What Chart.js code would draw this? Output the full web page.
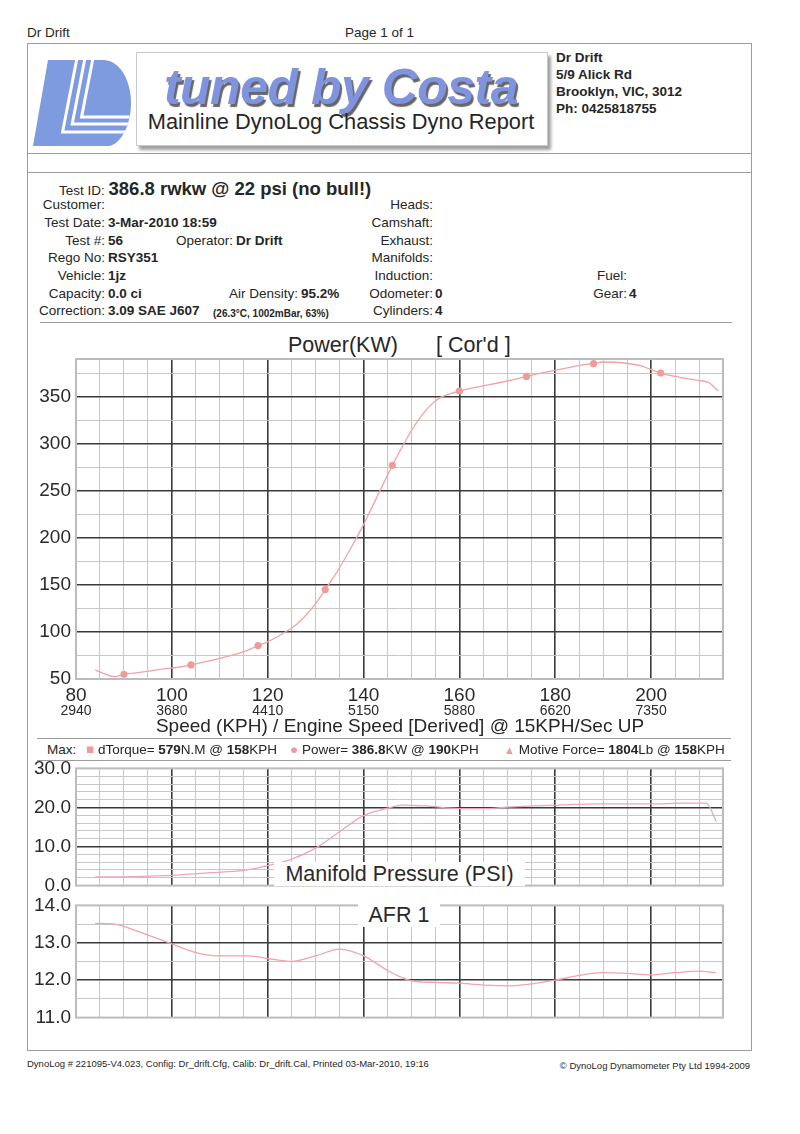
<!DOCTYPE html>
<html>
<head>
<meta charset="utf-8">
<title>Mainline DynoLog Chassis Dyno Report</title>
<script src="https://cdn.jsdelivr.net/npm/chart.js@4.4.1/dist/chart.umd.min.js"></script>
<style>
    html, body { margin: 0; padding: 0; background: #fff; }
    body {
        width: 800px; height: 1134px; position: relative; overflow: hidden;
        font-family: "Liberation Sans", Arial, sans-serif; color: #262626;
    }
    .t { position: absolute; white-space: nowrap; font-size: 13.5px; line-height: 16px; }
    .r { text-align: right; }
    .hline { position: absolute; height: 0; border-top: 1px solid #9c9c9c; }
    canvas { position: absolute; left: 0; }
    .plotLabel {
        position: absolute; background: #fff; text-align: center;
        font-size: 21.5px; line-height: 24px; color: #2a2a2a;
    }
</style>
</head>
<body>

<!-- page header -->
<div class="t" style="left:27px; top:25px;">Dr Drift</div>
<div class="t" style="left:345px; top:25px;">Page 1 of 1</div>
<div style="position:absolute; left:27px; top:43px; width:723px; height:1006px; border:1px solid #9c9c9c;"></div>

<!-- DynoLog logo -->
<svg style="position:absolute; left:0; top:0;" width="140" height="150" viewBox="0 0 140 150">
    <defs>
        <clipPath id="logoClip">
            <path d="M48,60 L104,60 C121,61 131,82 131,103 C131,125 121,144 109,146 L33,146 Z"/>
        </clipPath>
    </defs>
    <path d="M48,60 L104,60 C121,61 131,82 131,103 C131,125 121,144 109,146 L33,146 Z" fill="#7f9be0"/>
    <g clip-path="url(#logoClip)" stroke="#fff" stroke-width="3" fill="none">
        <polyline points="77,58 62.6,132 140,132"/>
        <polyline points="85,58 72.2,124 140,124"/>
        <polyline points="93,58 81.6,117 140,117"/>
    </g>
</svg>

<!-- banner -->
<div style="position:absolute; left:136px; top:52px; width:410px; height:92px; border:1px solid #c8c8c8; box-shadow:3px 4px 3px #a0a0a0; background:#fff;"></div>
<div style="position:absolute; left:136px; top:59px; width:410px; text-align:center; font-size:50px; line-height:56px; font-weight:bold; font-style:italic; color:#7f93de; text-shadow:2px 3px 1px #666; letter-spacing:-0.5px; white-space:nowrap;">tuned by Costa</div>
<div style="position:absolute; left:136px; top:109px; width:410px; text-align:center; font-size:21.8px; line-height:26px; white-space:nowrap;">Mainline DynoLog Chassis Dyno Report</div>

<!-- address -->
<div class="t" style="left:556px; top:49px; font-weight:bold; line-height:17px;">Dr Drift<br>5/9 Alick Rd<br>Brooklyn, VIC, 3012<br>Ph: 0425818755</div>

<div class="hline" style="left:27px; width:724px; top:153px;"></div>
<div class="hline" style="left:27px; width:724px; top:172px;"></div>

<!-- test details -->
<div class="t" style="left:59px; top:178px; line-height:22px;">Test ID: <b style="font-size:18.5px;">386.8 rwkw @ 22 psi (no bull!)</b></div>

<div class="t r" style="right:695px; top:197px;">Customer:</div>
<div class="t r" style="right:695px; top:215px;">Test Date:</div>
<div class="t" style="left:108px; top:215px; font-weight:bold;">3-Mar-2010 18:59</div>
<div class="t r" style="right:695px; top:233px;">Test #:</div>
<div class="t" style="left:108px; top:233px; font-weight:bold;">56</div>
<div class="t r" style="right:567px; top:233px;">Operator:</div>
<div class="t" style="left:236px; top:233px; font-weight:bold;">Dr Drift</div>
<div class="t r" style="right:695px; top:250px;">Rego No:</div>
<div class="t" style="left:108px; top:250px; font-weight:bold;">RSY351</div>
<div class="t r" style="right:695px; top:268px;">Vehicle:</div>
<div class="t" style="left:108px; top:268px; font-weight:bold;">1jz</div>
<div class="t r" style="right:695px; top:286px;">Capacity:</div>
<div class="t" style="left:108px; top:286px; font-weight:bold;">0.0 ci</div>
<div class="t r" style="right:502px; top:286px;">Air Density:</div>
<div class="t" style="left:301px; top:286px; font-weight:bold;">95.2%</div>
<div class="t r" style="right:695px; top:303px;">Correction:</div>
<div class="t" style="left:108px; top:303px; font-weight:bold;">3.09 SAE J607</div>
<div class="t" style="left:213px; top:306px; font-weight:bold; font-size:10px;">(26.3°C, 1002mBar, 63%)</div>

<div class="t r" style="right:367px; top:197px;">Heads:</div>
<div class="t r" style="right:367px; top:215px;">Camshaft:</div>
<div class="t r" style="right:367px; top:233px;">Exhaust:</div>
<div class="t r" style="right:367px; top:250px;">Manifolds:</div>
<div class="t r" style="right:367px; top:268px;">Induction:</div>
<div class="t r" style="right:367px; top:286px;">Odometer:</div>
<div class="t" style="left:435px; top:286px; font-weight:bold;">0</div>
<div class="t r" style="right:367px; top:303px;">Cylinders:</div>
<div class="t" style="left:435px; top:303px; font-weight:bold;">4</div>

<div class="t r" style="right:173px; top:268px;">Fuel:</div>
<div class="t r" style="right:173px; top:286px;">Gear:</div>
<div class="t" style="left:629px; top:286px; font-weight:bold;">4</div>

<div class="hline" style="left:40px; width:692px; top:322px;"></div>

<!-- power chart -->
<div class="t" style="left:288px; top:332px; font-size:21.5px; line-height:26px;">Power(KW)</div>
<div class="t" style="left:436px; top:332px; font-size:21.5px; line-height:26px;">[ Cor'd ]</div>
<canvas id="powerChart" width="760" height="410" style="top:330px;"></canvas>
<div class="t" style="left:0; width:800px; text-align:center; top:715px; font-size:19px; line-height:22px;">Speed (KPH) / Engine Speed [Derived] @ 15KPH/Sec UP</div>

<!-- max values -->
<div class="hline" style="left:37px; width:694px; top:738px;"></div>
<div class="t" style="left:47px; top:742px;">Max:</div>
<div class="t" style="left:86px; top:742px;"><span style="color:#f29a9a;">■</span> dTorque= <b>579</b>N.M @ <b>158</b>KPH</div>
<div class="t" style="left:290px; top:742px;"><span style="color:#f29a9a;">●</span> Power= <b>386.8</b>KW @ <b>190</b>KPH</div>
<div class="t" style="left:504px; top:742px;"><span style="color:#f29a9a; font-size:11px;">▲</span> Motive Force= <b>1804</b>Lb @ <b>158</b>KPH</div>
<div class="hline" style="left:37px; width:694px; top:760px;"></div>

<!-- manifold pressure and AFR charts -->
<canvas id="boostChart" width="760" height="150" style="top:752px;"></canvas>
<div class="plotLabel" style="left:274px; top:862px; width:251px;">Manifold Pressure (PSI)</div>
<canvas id="afrChart" width="760" height="145" style="top:889px;"></canvas>
<div class="plotLabel" style="left:358px; top:903px; width:82px;">AFR 1</div>

<!-- footer -->
<div class="t" style="left:27px; top:1058px; font-size:9.5px; line-height:12px;">DynoLog # 221095-V4.023, Config: Dr_drift.Cfg, Calib: Dr_drift.Cal, Printed 03-Mar-2010, 19:16</div>
<div class="t" style="right:50px; top:1060px; font-size:9.5px; line-height:12px;">© DynoLog Dynamometer Pty Ltd 1994-2009</div>

<script>
// Speed axis (KPH) and derived engine speed labels
const speedTicks = [80, 100, 120, 140, 160, 180, 200];
const rpmLabels = ['2940', '3680', '4410', '5150', '5880', '6620', '7350'];

// Corrected power curve
const powerSpeed = [84, 86, 88, 90, 94, 98, 102, 104, 108, 112, 116, 118, 120, 124, 126, 128, 130, 132,
    134, 136, 138, 140, 142, 144, 146, 148, 150, 152, 154, 156, 158, 160, 164, 168, 172, 174, 178, 182,
    186, 188, 190, 194, 198, 202, 206, 210, 212, 214];
const powerKw = [59.5, 55.5, 52.5, 55, 57.5, 60.5, 63, 65, 69.5, 74.5, 81, 85.5, 89.5, 101, 108, 118, 130, 145,
    160, 177, 195, 214, 235, 256, 277, 296, 314, 329, 341, 349, 353, 356, 360.5, 364.5, 369, 371.5, 376, 380,
    384, 385, 386.8, 386, 382.5, 375, 370.5, 367, 365, 356];
const powerMarkers = [90, 104, 118, 132, 146, 160, 174, 188, 202];

// Manifold pressure (PSI)
const boostSpeed = [84, 92, 100, 108, 115, 120, 125, 130, 135, 140, 145, 148, 153, 160, 165, 170, 180, 190,
    200, 207, 211.5, 213.6];
const boostPsi = [2.2, 2.3, 2.6, 3.3, 3.9, 5.1, 6.8, 9.6, 13.8, 17.9, 19.8, 20.6, 20.4, 19.7, 19.7, 20.1, 20.6,
    20.9, 20.9, 21.1, 21.1, 16.4];

// Air / fuel ratio
const afrSpeed = [84, 88, 93, 100, 105, 110, 116, 120, 125, 130, 135, 140, 145, 148, 150, 155, 160, 165, 171,
    175, 180, 185, 190, 195, 200, 205, 210, 213.5];
const afrValues = [13.52, 13.5, 13.3, 12.97, 12.74, 12.65, 12.65, 12.58, 12.5, 12.65, 12.83, 12.65, 12.26,
    12.07, 11.98, 11.94, 11.92, 11.87, 11.85, 11.9, 12.0, 12.13, 12.2, 12.18, 12.14, 12.2, 12.24, 12.2];

Chart.defaults.font.family = '"Liberation Sans", Arial, sans-serif';
Chart.defaults.color = '#2a2a2a';

const X_MIN = 80, X_MAX = 215;

// Build a list of grid values between min and max
function steps(min, max, step) {
    const out = [];
    for (let v = min; v <= max + 1e-9; v += step) out.push(Math.round(v * 1000) / 1000);
    return out;
}

const has = (list, v) => list.some(m => Math.abs(m - v) < 1e-6);

// Light grey frame round the plot area
const plotFrame = {
    id: 'plotFrame',
    beforeDatasetsDraw(chart) {
        const { ctx, chartArea: a } = chart;
        ctx.save();
        ctx.strokeStyle = '#bcbcbc';
        ctx.lineWidth = 2;
        ctx.strokeRect(a.left, a.top, a.right - a.left, a.bottom - a.top);
        ctx.restore();
    }
};

function gridStyle(majors, min, max) {
    return {
        drawTicks: false,
        color: ctx => {
            const v = ctx.tick ? ctx.tick.value : null;
            if (v === null || Math.abs(v - min) < 1e-6 || Math.abs(v - max) < 1e-6) return 'rgba(0,0,0,0)';
            return has(majors, v) ? '#3a3a3a' : '#c6c6c6';
        },
        lineWidth: ctx => (ctx.tick && has(majors, ctx.tick.value) ? 1.6 : 1)
    };
}

function makeChart(id, cfg) {
    const xGrid = steps(X_MIN, X_MAX, 5);
    const yGrid = steps(cfg.yMin, cfg.yMax, cfg.yMinor);

    const scales = {
        x: {
            type: 'linear', min: X_MIN, max: X_MAX,
            afterBuildTicks: s => { s.ticks = xGrid.map(v => ({ value: v })); },
            afterFit: s => { s.height = cfg.showX ? 24 : 0; },
            grid: gridStyle(speedTicks, X_MIN, X_MAX),
            border: { display: false },
            ticks: {
                display: cfg.showX, autoSkip: false, maxRotation: 0, padding: 5,
                font: { size: 19 },
                callback: v => (has(speedTicks, v) ? String(v) : '')
            }
        },
        y: {
            min: cfg.yMin, max: cfg.yMax,
            afterBuildTicks: s => { s.ticks = yGrid.map(v => ({ value: v })); },
            afterFit: s => { s.width = 76; },
            grid: gridStyle(cfg.yMajors, cfg.yMin, cfg.yMax),
            border: { display: false },
            ticks: {
                autoSkip: false, padding: 5, font: { size: 19 },
                callback: v => (has(cfg.yMajors, v) ? v.toFixed(cfg.decimals) : '')
            }
        }
    };

    if (cfg.showX) {
        // second row of tick labels: derived engine speed
        scales.x2 = {
            type: 'linear', position: 'bottom', min: X_MIN, max: X_MAX,
            afterBuildTicks: s => { s.ticks = speedTicks.map(v => ({ value: v })); },
            afterFit: s => { s.height = 37; },
            grid: { display: false, drawTicks: false },
            border: { display: false },
            ticks: {
                autoSkip: false, maxRotation: 0, padding: 0, font: { size: 14 },
                callback: v => rpmLabels[speedTicks.indexOf(v)] || ''
            }
        };
    }

    return new Chart(document.getElementById(id), {
        type: 'line',
        data: { datasets: cfg.datasets },
        options: {
            responsive: false,
            animation: false,
            layout: { padding: cfg.padding },
            plugins: { legend: { display: false }, tooltip: { enabled: false } },
            scales: scales
        },
        plugins: [plotFrame]
    });
}

document.addEventListener('DOMContentLoaded', function() {
    makeChart('powerChart', {
        yMin: 50, yMax: 390, yMinor: 25,
        yMajors: [50, 100, 150, 200, 250, 300, 350], decimals: 0,
        showX: true,
        padding: { top: 29, right: 37, bottom: 0, left: 0 },
        datasets: [{
            data: powerSpeed.map((s, i) => ({ x: s, y: powerKw[i] })),
            borderColor: '#f2a3a3',
            borderWidth: 1.3,
            cubicInterpolationMode: 'monotone',
            pointRadius: ctx => (ctx.raw && powerMarkers.includes(ctx.raw.x) ? 3.6 : 0),
            pointBackgroundColor: '#f29a9a',
            pointBorderWidth: 0
        }]
    });

    makeChart('boostChart', {
        yMin: 0, yMax: 30, yMinor: 2,
        yMajors: [0, 10, 20, 30], decimals: 1,
        showX: false,
        padding: { top: 16, right: 37, bottom: 16, left: 0 },
        datasets: [{
            data: boostSpeed.map((s, i) => ({ x: s, y: boostPsi[i] })),
            borderColor: '#f0a4b6',
            borderWidth: 1.3,
            cubicInterpolationMode: 'monotone',
            pointRadius: 0
        }]
    });

    makeChart('afrChart', {
        yMin: 11, yMax: 14, yMinor: 0.5,
        yMajors: [11, 12, 13, 14], decimals: 1,
        showX: false,
        padding: { top: 13, right: 37, bottom: 16, left: 0 },
        datasets: [{
            data: afrSpeed.map((s, i) => ({ x: s, y: afrValues[i] })),
            borderColor: '#f2a3ab',
            borderWidth: 1.3,
            cubicInterpolationMode: 'monotone',
            pointRadius: 0
        }]
    });
});
</script>
</body>
</html>
